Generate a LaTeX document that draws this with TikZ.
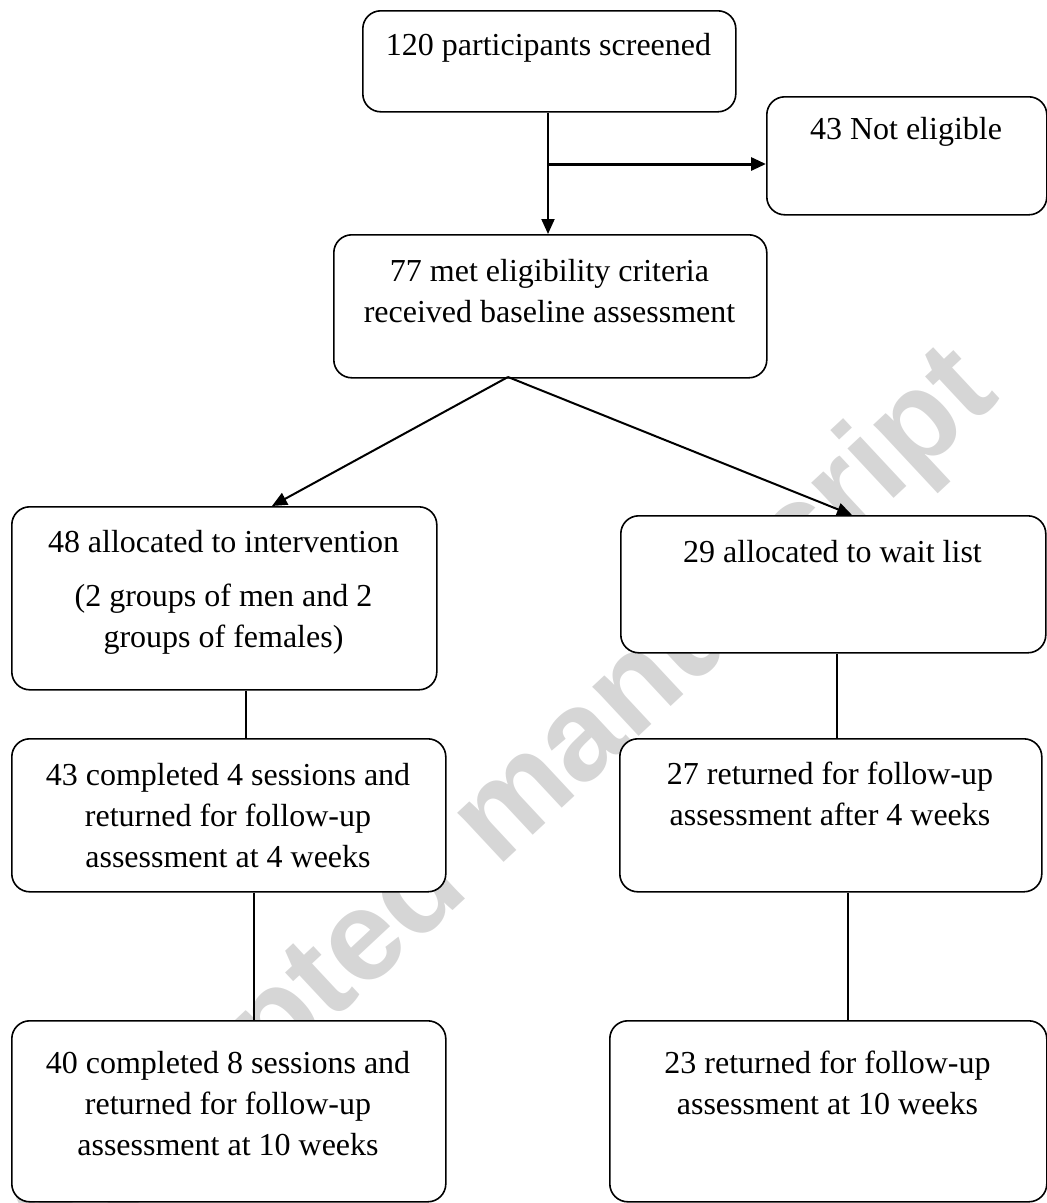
\documentclass[tikz,border=0pt]{standalone}
\usepackage{fontspec}
\setmainfont{Liberation Serif}
\setsansfont{Liberation Sans}
\usetikzlibrary{arrows.meta,calc}
\begin{document}
\begin{tikzpicture}[x=1pt,y=-1pt,
  box/.style={draw, line width=1.6pt, rounded corners=18pt, fill=white, inner sep=0pt, anchor=north west},
  txt/.style={font=\fontsize{32}{41}\selectfont, align=center, inner sep=0pt, anchor=base},
  conn/.style={line width=2pt},
  arr/.style={conn, -{Triangle[length=15pt,width=13pt]}},
  wm/.style={rotate=43, anchor=base, inner sep=0pt, text=gray!32, font=\sffamily\bfseries\fontsize{128}{128}\selectfont}]
\useasboundingbox (0,0) rectangle (1047,1203);
% watermark
\node[wm] (wm) at (526,842) {Accepted manuscript};
% boxes
\node[box, minimum width=373pt, minimum height=101pt] (b1) at (362,10) {};
\node[box, minimum width=280pt, minimum height=118pt] (b2) at (766,96) {};
\node[box, minimum width=433pt, minimum height=143pt] (b3) at (333,234) {};
\node[box, minimum width=425pt, minimum height=183pt] (b4) at (11,506) {};
\node[box, minimum width=425pt, minimum height=137pt] (b5) at (620,515) {};
\node[box, minimum width=434pt, minimum height=153pt] (b6) at (11,738) {};
\node[box, minimum width=422pt, minimum height=153pt] (b7) at (619,738) {};
\node[box, minimum width=434pt, minimum height=181pt] (b8) at (11,1020) {};
\node[box, minimum width=437pt, minimum height=181pt] (b9) at (609,1020) {};
% texts (anchor base = baseline of the last line)
\node[txt] (t1) at (548.5,55) {120 participants screened};
\node[txt] (t2) at (906,139) {43 Not eligible};
\node[txt] (t3) at (549.5,322) {77 met eligibility criteria\\received baseline assessment};
\node[txt] (t4) at (223.5,647) {48 allocated to intervention\\[13pt](2 groups of men and 2\\groups of females)};
\node[txt] (t5) at (832.5,562) {29 allocated to wait list};
\node[txt] (t6) at (228,867) {43 completed 4 sessions and\\returned for follow-up\\assessment at 4 weeks};
\node[txt] (t7) at (830,825) {27 returned for follow-up\\assessment after 4 weeks};
\node[txt] (t8) at (228,1155) {40 completed 8 sessions and\\returned for follow-up\\assessment at 10 weeks};
\node[txt] (t9) at (827.5,1114) {23 returned for follow-up\\assessment at 10 weeks};
% connectors
\coordinate (split) at (548,164);
\coordinate (fork) at (508,377);
\draw[arr] (548,0 |- b1.south) -- (548,0 |- b3.north);
\draw[arr, line width=3pt] (split) -- (split -| b2.west);
\draw[arr] (fork) -- (272,0 |- b4.north);
\draw[arr] (fork) -- (852,0 |- b5.north);
\draw[conn] (246,0 |- b4.south) -- (246,0 |- b6.north);
\draw[conn] (837,0 |- b5.south) -- (837,0 |- b7.north);
\draw[conn] (254,0 |- b6.south) -- (254,0 |- b8.north);
\draw[conn] (848,0 |- b7.south) -- (848,0 |- b9.north);
\end{tikzpicture}
\end{document}
